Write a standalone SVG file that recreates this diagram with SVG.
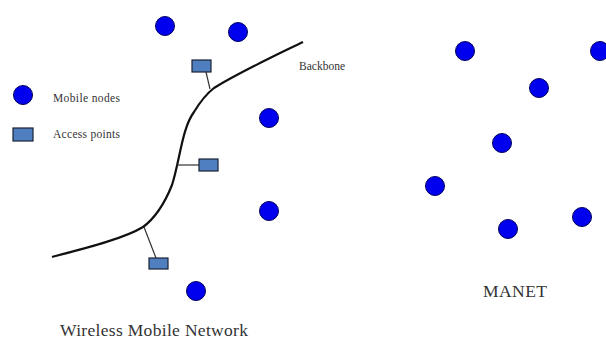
<svg xmlns="http://www.w3.org/2000/svg" width="606" height="340" viewBox="0 0 606 340">
<style>
.mn{fill:#0000ee;stroke:#00005a;stroke-width:1}
.ap{fill:#4f7fbf;stroke:#1a2233;stroke-width:1.2}
.ln{fill:none;stroke:#333;stroke-width:1.2}
.bb{fill:none;stroke:#111;stroke-width:2.2}
.t{font-family:"Liberation Serif",serif;fill:#333}
</style>
<rect width="606" height="340" fill="#fff"/>
<g id="connectors">
<path id="backbone" class="bb" d="M52,257 C90,247 125,238 143,227 C158,216 166,200 172,185 C180,160 182,128 194,112 C200,102 205,95 214,88 C240,72 270,58 303,42"/>
<line class="ln" x1="206" y1="72" x2="210" y2="89"/>
<line class="ln" x1="177" y1="165" x2="199" y2="165"/>
<line class="ln" x1="144" y1="227" x2="156" y2="258"/>
</g>
<g id="wmn-nodes">
<g id="n1"><circle class="mn" cx="165" cy="26" r="9.5"/></g>
<g id="n2"><circle class="mn" cx="238" cy="32" r="9.5"/></g>
<g id="n3"><circle class="mn" cx="269" cy="118" r="9.5"/></g>
<g id="n4"><circle class="mn" cx="269" cy="211" r="9.5"/></g>
<g id="n5"><circle class="mn" cx="196" cy="291" r="9.5"/></g>
</g>
<g id="access-points">
<g id="ap1"><rect class="ap" x="192" y="60" width="19" height="12"/></g>
<g id="ap2"><rect class="ap" x="199" y="159" width="19" height="12"/></g>
<g id="ap3"><rect class="ap" x="149" y="258" width="19" height="11"/></g>
</g>
<g id="legend">
<circle class="mn" cx="23" cy="95" r="9.5"/>
<text class="t" x="53" y="102" font-size="11.5" textLength="67">Mobile nodes</text>
<rect class="ap" x="13" y="128" width="20" height="13"/>
<text class="t" x="53" y="138" font-size="11.5" textLength="67">Access points</text>
</g>
<text class="t" x="299" y="70" font-size="11.5" textLength="46">Backbone</text>
<text class="t" x="60" y="336" font-size="17.5" textLength="188">Wireless Mobile Network</text>
<g id="manet-nodes">
<g id="m1"><circle class="mn" cx="465" cy="51" r="9.5"/></g>
<g id="m2"><circle class="mn" cx="600" cy="51" r="9.5"/></g>
<g id="m3"><circle class="mn" cx="539" cy="88" r="9.5"/></g>
<g id="m4"><circle class="mn" cx="502" cy="143" r="9.5"/></g>
<g id="m5"><circle class="mn" cx="435" cy="186" r="9.5"/></g>
<g id="m6"><circle class="mn" cx="508" cy="229" r="9.5"/></g>
<g id="m7"><circle class="mn" cx="582" cy="217" r="9.5"/></g>
</g>
<text class="t" x="483" y="297" font-size="17.5" textLength="64">MANET</text>
</svg>
